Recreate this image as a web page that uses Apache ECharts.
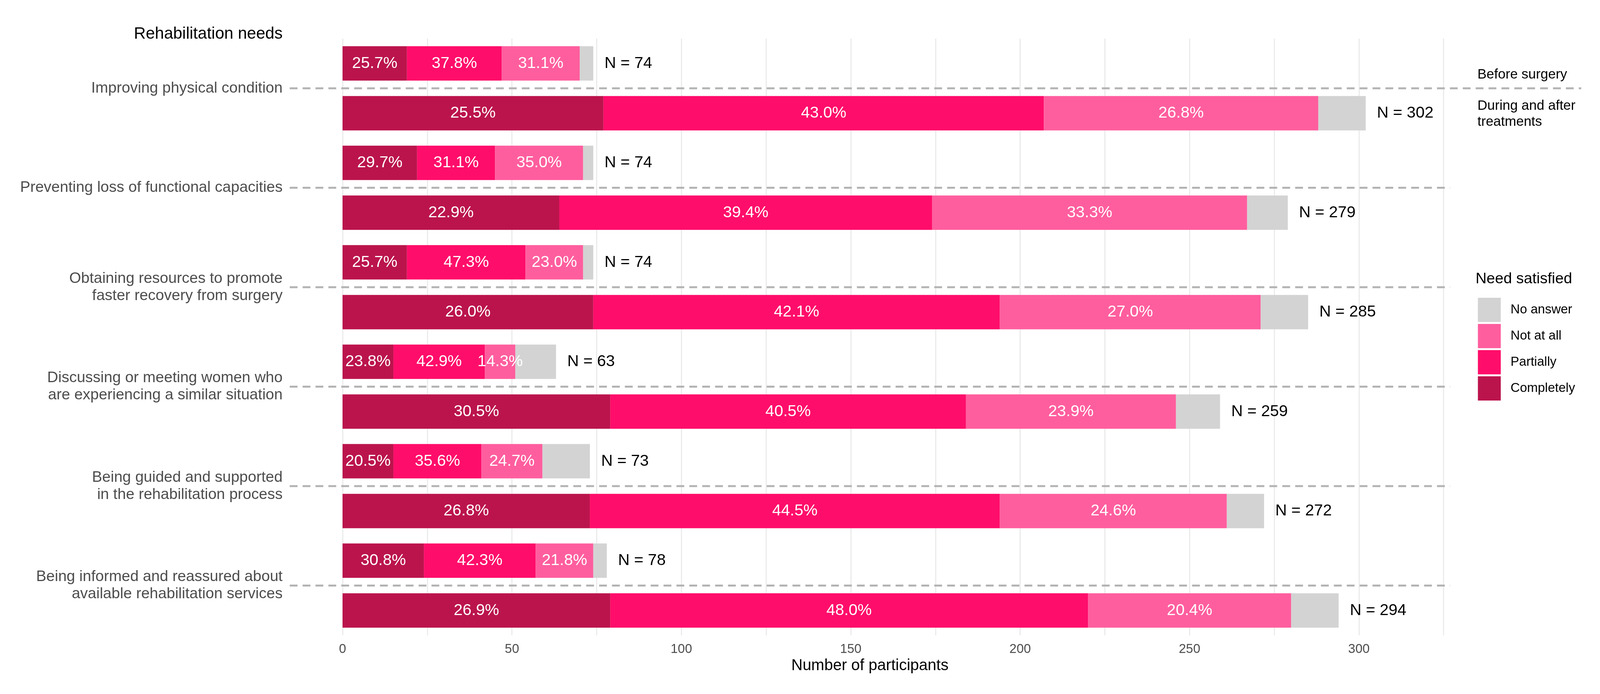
<!DOCTYPE html>
<html>
<head>
<meta charset="utf-8">
<script src="https://cdn.jsdelivr.net/npm/echarts@6/dist/echarts.min.js"></script>
<style>html,body{margin:0;padding:0;background:#fff;overflow:hidden}#c{width:100vw;height:100vh}</style>
</head>
<body>
<div id="c"></div>
<script>
// ---------- data ----------
const categories = [
  'Improving physical condition',
  'Preventing loss of functional capacities',
  'Obtaining resources to promote\nfaster recovery from surgery',
  'Discussing or meeting women who\nare experiencing a similar situation',
  'Being guided and supported\nin the rehabilitation process',
  'Being informed and reassured about\navailable rehabilitation services'
];
const legendOrder = ['No answer', 'Not at all', 'Partially', 'Completely'];

// Before surgery (counts)
const beforeCompletely = [19, 22, 19, 15, 15, 24];
const beforePartially  = [28, 23, 35, 27, 26, 33];
const beforeNotAtAll   = [23, 26, 17, 9, 18, 17];
const beforeNoAnswer   = [4, 3, 3, 12, 14, 4];
const beforeN          = [74, 74, 74, 63, 73, 78];
// Before surgery (percent labels)
const beforeCompletelyPct = [25.7, 29.7, 25.7, 23.8, 20.5, 30.8];
const beforePartiallyPct  = [37.8, 31.1, 47.3, 42.9, 35.6, 42.3];
const beforeNotAtAllPct   = [31.1, 35.0, 23.0, 14.3, 24.7, 21.8];

// During and after treatments (counts)
const duringCompletely = [77, 64, 74, 79, 73, 79];
const duringPartially  = [130, 110, 120, 105, 121, 141];
const duringNotAtAll   = [81, 93, 77, 62, 67, 60];
const duringNoAnswer   = [14, 12, 14, 13, 11, 14];
const duringN          = [302, 279, 285, 259, 272, 294];
// During and after treatments (percent labels)
const duringCompletelyPct = [25.5, 22.9, 26.0, 30.5, 26.8, 26.9];
const duringPartiallyPct  = [43.0, 39.4, 42.1, 40.5, 44.5, 48.0];
const duringNotAtAllPct   = [26.8, 33.3, 27.0, 23.9, 24.6, 20.4];

// ---------- layout (designed for 4269 x 1776, scaled to the real viewport) ----------
const W = window.innerWidth || 4269, H = window.innerHeight || 1776;
const kx = W / 4269, ky = H / 1776;
const FONT = '"Liberation Sans", Arial, Helvetica, sans-serif';
const colors = {
  'Completely': '#BB144C',
  'Partially': '#FF0D6A',
  'Not at all': '#FF5E9E',
  'No answer': '#D3D3D3'
};
const X_MIN = -15.6, X_MAX = 326.9;
const DASH = { stroke: '#B3B3B3', lineWidth: 5, lineDash: [20, 13] };

function pctSeries(stack, name, data, pct) {
  return {
    type: 'bar', name: name, stack: stack, data: data,
    barWidth: 88 * ky, barGap: '45%',
    itemStyle: { color: colors[name] },
    label: {
      show: true, position: 'inside', color: '#FFFFFF',
      fontSize: 41, fontFamily: FONT,
      formatter: p => pct[p.dataIndex].toFixed(1) + '%'
    },
    emphasis: { disabled: true },
    animation: false
  };
}
function naSeries(stack, data, nArr) {
  return {
    type: 'bar', name: 'No answer', stack: stack, data: data,
    barWidth: 88 * ky, barGap: '45%',
    itemStyle: { color: colors['No answer'] },
    label: {
      show: true, position: 'right', distance: 30 * kx, color: '#000000',
      fontSize: 41, fontFamily: FONT,
      formatter: p => 'N = ' + nArr[p.dataIndex]
    },
    emphasis: { disabled: true },
    animation: false
  };
}

const series = [
  pctSeries('before', 'Completely', beforeCompletely, beforeCompletelyPct),
  pctSeries('before', 'Partially', beforePartially, beforePartiallyPct),
  pctSeries('before', 'Not at all', beforeNotAtAll, beforeNotAtAllPct),
  naSeries('before', beforeNoAnswer, beforeN),
  pctSeries('during', 'Completely', duringCompletely, duringCompletelyPct),
  pctSeries('during', 'Partially', duringPartially, duringPartiallyPct),
  pctSeries('during', 'Not at all', duringNotAtAll, duringNotAtAllPct),
  naSeries('during', duringNoAnswer, duringN)
];

const chart = echarts.init(document.getElementById('c'), null, { width: W, height: H });
chart.setOption({
  backgroundColor: '#FFFFFF',
  animation: false,
  grid: { left: 773 * kx, right: 400 * kx, top: 98.75 * ky, bottom: 150.25 * ky, containLabel: false },
  xAxis: {
    type: 'value', min: X_MIN, max: X_MAX, minInterval: 25, maxInterval: 25,
    axisLine: { show: false }, axisTick: { show: false },
    splitLine: { show: true, showMinLine: false, showMaxLine: false,
      lineStyle: { color: '#EBEBEB', width: 3 } },
    axisLabel: {
      fontSize: 33, color: '#4D4D4D', fontFamily: FONT, margin: 20 * ky,
      showMinLabel: false, showMaxLabel: false,
      formatter: v => (Math.abs(v % 50) < 1e-9 && v >= 0 && v <= 300) ? String(Math.round(v)) : ''
    },
    name: 'Number of participants', nameLocation: 'middle', nameGap: 58 * ky,
    nameTextStyle: { fontSize: 40, color: '#000000', fontFamily: FONT }
  },
  yAxis: {
    type: 'category', data: categories, inverse: true,
    axisLine: { show: false }, axisTick: { show: false }, splitLine: { show: false },
    axisLabel: { fontSize: 39, color: '#4D4D4D', fontFamily: FONT, margin: 19 * kx, lineHeight: 44 }
  },
  legend: {
    orient: 'vertical', left: 3938 * kx, top: 757 * ky,
    itemWidth: 61 * kx, itemHeight: 62 * ky, itemGap: 5 * ky, icon: 'rect',
    selectedMode: false,
    data: legendOrder,
    itemStyle: { borderWidth: 0 },
    textStyle: { fontSize: 33, color: '#000000', fontFamily: FONT, padding: [0, 0, 0, 21 * kx] }
  },
  tooltip: { show: false },
  series: series
});

// separators and annotations positioned from the library's own scales
const gridLeft = chart.convertToPixel({ xAxisIndex: 0 }, X_MIN);
const gridRight = chart.convertToPixel({ xAxisIndex: 0 }, X_MAX);
const catY = categories.map(c => chart.convertToPixel({ yAxisIndex: 0 }, c));
const lineY = catY[0];
const graphics = catY.map((y, i) => ({
  type: 'line', silent: true, z: 10,
  shape: { x1: gridLeft, y1: y, x2: i === 0 ? 4219 * kx : gridRight, y2: y },
  style: DASH
}));
graphics.push(
  { type: 'text', silent: true, x: gridLeft - 19 * kx, y: 87 * ky,
    style: { text: 'Rehabilitation needs', fill: '#000000', fontSize: 42, fontFamily: FONT,
             align: 'right', verticalAlign: 'middle' } },
  { type: 'text', silent: true, x: 3942 * kx, y: lineY - 35 * ky,
    style: { text: 'Before surgery', fill: '#000000', fontSize: 35, fontFamily: FONT,
             align: 'left', verticalAlign: 'middle' } },
  { type: 'text', silent: true, x: 3942 * kx, y: lineY + 66 * ky,
    style: { text: 'During and after\ntreatments', fill: '#000000', fontSize: 35, fontFamily: FONT,
             lineHeight: 41.5, align: 'left', verticalAlign: 'middle' } },
  { type: 'text', silent: true, x: 3937 * kx, y: 714 * ky,
    style: { text: 'Need satisfied', fill: '#000000', fontSize: 39, fontFamily: FONT,
             align: 'left', verticalAlign: 'middle' } }
);
chart.setOption({ graphic: graphics });
</script>
</body>
</html>
